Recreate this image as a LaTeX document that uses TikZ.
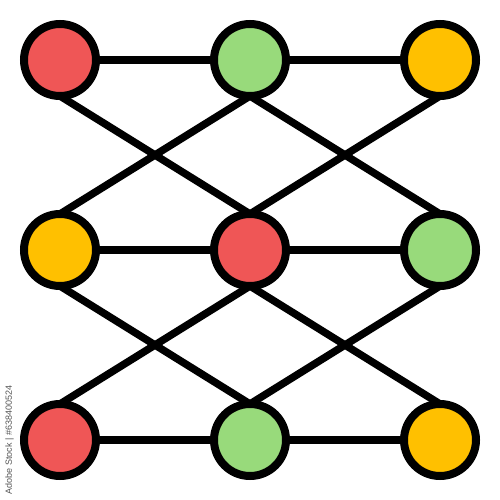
\documentclass[tikz,border=0pt]{standalone}
\usepackage{fontspec}
\newfontfamily\wmfont{Liberation Sans}
\usetikzlibrary{backgrounds}
\definecolor{cred}{HTML}{EF5656}
\definecolor{cgreen}{HTML}{98DA7B}
\definecolor{cyellow}{HTML}{FFC000}
\definecolor{wmgray}{HTML}{555555}
\tikzset{
  dot/.style={circle, draw=black, line width=8pt, minimum size=72pt, inner sep=0pt, outer sep=0pt},
  link/.style={draw=black, line width=7.5pt},
}
\begin{document}
\begin{tikzpicture}[x=1pt, y=-1pt]
\useasboundingbox (0,0) rectangle (500,500);
\node[dot, fill=cred]    (a1) at (60,60) {};
\node[dot, fill=cgreen]  (a2) at (250,60) {};
\node[dot, fill=cyellow] (a3) at (440,60) {};
\node[dot, fill=cyellow] (b1) at (60,250) {};
\node[dot, fill=cred]    (b2) at (250,250) {};
\node[dot, fill=cgreen]  (b3) at (440,250) {};
\node[dot, fill=cred]    (c1) at (60,440) {};
\node[dot, fill=cgreen]  (c2) at (250,440) {};
\node[dot, fill=cyellow] (c3) at (440,440) {};
\begin{pgfonlayer}{background}
\draw[link] (a1) -- (a2) -- (a3);
\draw[link] (b1) -- (b2) -- (b3);
\draw[link] (c1) -- (c2) -- (c3);
\draw[link] (a1.south) -- (b2.north);
\draw[link] (a2.south) -- (b1.north);
\draw[link] (a2.south) -- (b3.north);
\draw[link] (a3.south) -- (b2.north);
\draw[link] (b1.south) -- (c2.north);
\draw[link] (b2.south) -- (c1.north);
\draw[link] (b2.south) -- (c3.north);
\draw[link] (b3.south) -- (c2.north);
\end{pgfonlayer}
\node[rotate=90, font=\wmfont\fontsize{9}{10}\selectfont, text=wmgray, inner sep=0pt] (wm) at (9.5,440) {Adobe Stock | \#638400524};
\end{tikzpicture}
\end{document}
